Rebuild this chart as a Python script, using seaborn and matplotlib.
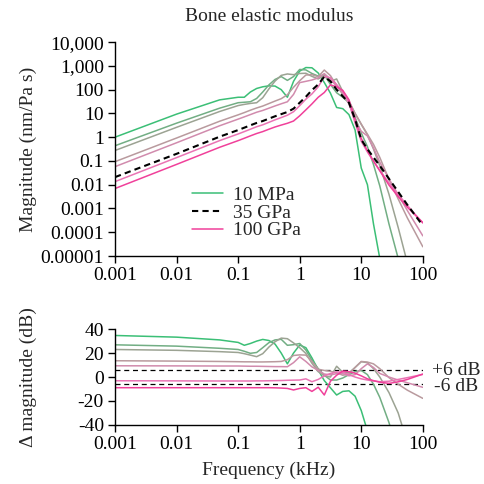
import numpy as np
import matplotlib
matplotlib.use("Agg")
import matplotlib.pyplot as plt
import matplotlib.transforms as mtransforms
from matplotlib.lines import Line2D
import seaborn as sns

# shared frequency grid (kHz)
FREQ_KHZ = [0.001, 0.01, 0.05, 0.1, 0.126, 0.158, 0.2, 0.251, 0.316, 0.398,
            0.501, 0.631, 0.794, 1.0, 1.26, 1.58, 2.0, 2.51, 3.16, 3.98,
            5.01, 6.31, 7.94, 10.0, 12.6, 15.8, 20.0, 28.2, 39.8, 56.2, 100.0]

# log10 of magnitude (nm/Pa s)
LOGMAG_10MPA = [0.00, 0.97, 1.57, 1.68, 1.68, 1.90, 2.05, 2.12, 2.16, 2.15,
                2.00, 1.68, 2.35, 2.78, 2.93, 2.92, 2.70, 2.30, 1.85, 1.25,
                1.20, 0.95, 0.30, -1.30, -2.00, -3.65, -5.10, -7.0, -9.0, -11.0, -14.0]
LOGMAG_B = [-0.36, 0.59, 1.22, 1.45, 1.47, 1.49, 1.63, 1.90, 2.20, 2.43,
            2.55, 2.39, 2.55, 2.85, 2.83, 2.68, 2.57, 2.62, 2.22, 1.87,
            1.68, 1.45, 0.83, 0.18, -0.40, -1.15, -2.05, -3.65, -5.10, -6.50, -9.0]
LOGMAG_C = [-0.56, 0.415, 1.08, 1.33, 1.38, 1.42, 1.45, 1.66, 2.03, 2.36,
            2.60, 2.66, 2.63, 2.68, 2.69, 2.56, 2.45, 2.60, 2.35, 2.45,
            1.92, 1.53, 1.00, 0.54, 0.10, -0.50, -1.20, -2.40, -3.80, -5.30, -8.5]
LOGMAG_D = [-1.03, -0.035, 0.67, 0.94, 1.035, 1.135, 1.23, 1.31, 1.415, 1.52,
            1.62, 1.785, 2.10, 2.375, 2.615, 2.63, 2.545, 2.825, 2.59, 2.175,
            1.795, 1.475, 1.00, 0.55, 0.125, -0.30, -0.85, -1.775, -2.60, -3.40, -4.61]
LOGMAG_E = [-1.24, -0.235, 0.48, 0.76, 0.855, 0.95, 1.05, 1.125, 1.22, 1.315,
            1.405, 1.49, 1.80, 2.295, 2.35, 2.405, 2.495, 2.675, 2.44, 2.14,
            1.86, 1.40, 0.70, 0.25, 0.05, -0.45, -1.05, -1.75, -2.425, -3.09, -4.15]
LOGMAG_35GPA = [-1.68, -0.70, 0.02, 0.30, 0.40, 0.50, 0.60, 0.68, 0.78, 0.88,
                0.97, 1.06, 1.20, 1.45, 1.70, 1.98, 2.22, 2.55, 2.35, 2.00,
                1.72, 1.45, 0.75, -0.10, -0.50, -0.85, -1.20, -1.75, -2.30, -2.85, -3.72]
LOGMAG_F = [-1.87, -0.86, -0.145, 0.135, 0.235, 0.335, 0.44, 0.52, 0.625, 0.73,
            0.825, 0.925, 1.07, 1.325, 1.60, 1.82, 2.12, 2.55, 2.50, 2.215,
            1.92, 1.45, 0.60, -0.175, -0.625, -1.015, -1.395, -1.925, -2.40, -2.875, -3.61]
LOGMAG_100GPA = [-2.16, -1.145, -0.425, -0.145, -0.045, 0.055, 0.155, 0.235, 0.335, 0.43,
                 0.51, 0.585, 0.68, 0.90, 1.15, 1.40, 1.68, 1.88, 2.20, 2.12,
                 1.97, 1.575, 0.76, -0.05, -0.575, -1.00, -1.415, -2.015, -2.50, -2.95, -3.595]

# change in magnitude relative to 35 GPa (dB), bottom panel
DB_10MPA = [34.7, 33.3, 31.0, 28.9, 26.5, 28.0, 30.0, 31.4, 30.5, 27.5,
            20.0, 11.0, 20.0, 26.7, 24.5, 16.0, 6.0, -3.0, -9.0, -15.0,
            -12.0, -11.5, -16.0, -28.0, -45.0, -70.0, -95.0, -120.0, -140.0, -160.0, -200.0]
DB_B = [26.9, 25.8, 24.0, 23.0, 21.5, 19.8, 20.5, 24.5, 28.7, 31.0,
        31.5, 26.5, 27.0, 28.0, 22.5, 14.0, 7.0, 1.5, -2.5, -2.5,
        -0.8, 2.0, 4.5, 5.5, 2.0, -6.0, -17.0, -38.0, -65.0, -90.0, -130.0]
DB_C = [23.0, 22.3, 21.2, 20.5, 19.5, 18.3, 17.0, 19.5, 25.0, 29.5,
        32.5, 32.0, 28.5, 24.5, 19.7, 11.5, 4.5, 1.0, 0.0, 9.0,
        4.0, 3.5, 8.0, 12.8, 12.0, 7.0, 0.0, -13.0, -30.0, -55.0, -95.0]
DB_D = [13.6, 13.3, 13.0, 12.8, 12.7, 12.7, 12.6, 12.6, 12.7, 12.8,
        13.0, 14.5, 18.0, 18.5, 18.3, 13.0, 6.5, 5.5, 4.8, 3.5,
        1.5, 2.5, 8.0, 13.0, 12.5, 11.0, 7.0, -0.5, -6.0, -11.0, -17.8]
DB_E = [9.4, 9.3, 9.2, 9.2, 9.1, 9.0, 9.0, 8.9, 8.8, 8.7,
        8.7, 8.6, 12.0, 16.9, 13.0, 8.5, 5.5, 2.5, 1.8, 2.8,
        2.8, 1.0, 2.0, 7.0, 11.0, 8.0, 3.0, 0.0, -2.5, -4.8, -8.6]
DB_F = [-3.1, -3.2, -3.3, -3.3, -3.3, -3.3, -3.2, -3.2, -3.1, -3.0,
        -2.9, -2.7, -2.6, -2.5, -1.5, -3.9, -2.0, 1.0, 3.0, 4.3,
        4.0, 2.0, 0.0, -1.5, -2.5, -3.3, -3.9, -3.5, -2.0, -0.5, 2.2]
DB_100GPA = [-8.9, -8.9, -8.9, -8.9, -8.9, -8.9, -8.9, -8.9, -8.9, -9.0,
             -9.2, -9.5, -10.8, -9.5, -8.9, -12.0, -8.5, -15.0, -3.5, 1.5,
             5.0, 4.5, 3.2, 1.0, -1.5, -3.0, -4.3, -5.3, -4.0, -2.0, 2.5]

X_TICKS = [0.001, 0.01, 0.1, 1, 10, 100]
X_TICK_LABELS = ["0.001", "0.01", "0.1", "1", "10", "100"]
Y_TICKS = [1e4, 1e3, 1e2, 1e1, 1, 0.1, 0.01, 0.001, 0.0001, 0.00001]
Y_TICK_LABELS = ["10,000", "1,000", "100", "10", "1", "0.1", "0.01",
                 "0.001", "0.0001", "0.00001"]
DB_TICKS = [40, 20, 0, -20, -40]
DB_TICK_LABELS = ["40", "20", "0", "-20", "-40"]

sns.set_theme(style="ticks")
plt.rcParams["font.family"] = ["Liberation Serif", "DejaVu Serif"]
plt.rcParams["axes.unicode_minus"] = False
FS = 14

colors = ["#3BBF76", "#72AE84", "#9CA393", "#B99A9E", "#D18BAD", "#EA74B4", "#F0409A"]
top_series = [LOGMAG_10MPA, LOGMAG_B, LOGMAG_C, LOGMAG_D, LOGMAG_E, LOGMAG_F, LOGMAG_100GPA]
db_series = [DB_10MPA, DB_B, DB_C, DB_D, DB_E, DB_F, DB_100GPA]

fig = plt.figure(figsize=(4.84, 4.84), dpi=100)
ax_top = fig.add_axes([0.2376, 0.471, 0.636, 0.442])
ax_bot = fig.add_axes([0.2376, 0.122, 0.636, 0.198])

for ax in (ax_top, ax_bot):
    ax.set_xscale("log")
ax_top.set_yscale("log")

freq = np.array(FREQ_KHZ)
for c, lm in zip(colors, top_series):
    sns.lineplot(x=freq, y=np.power(10.0, lm), ax=ax_top, color=c, lw=1.1,
                 estimator=None, sort=False)
sns.lineplot(x=freq, y=np.power(10.0, LOGMAG_35GPA), ax=ax_top, color="black",
             lw=1.5, linestyle=(0, (3, 2)), estimator=None, sort=False)

for c, db in zip(colors, db_series):
    sns.lineplot(x=freq, y=db, ax=ax_bot, color=c, lw=1.1,
                 estimator=None, sort=False)
for lvl in (6, -6):
    ax_bot.axhline(lvl, color="black", lw=0.9, linestyle=(0, (4, 3)), zorder=1)

trans = mtransforms.blended_transform_factory(ax_bot.transAxes, ax_bot.transData)
ax_bot.text(1.03, 5.5, "+6 dB", transform=trans, ha="left", va="center", fontsize=FS)
ax_bot.text(1.035, -7.5, "-6 dB", transform=trans, ha="left", va="center", fontsize=FS)

ax_top.set_xlim(0.001, 100)
ax_top.set_ylim(1e-5, 1e4)
ax_bot.set_xlim(0.001, 100)
ax_bot.set_ylim(-40, 40)

for ax in (ax_top, ax_bot):
    ax.set_xticks(X_TICKS)
    ax.set_xticklabels(X_TICK_LABELS, fontsize=FS)
    ax.minorticks_off()
    ax.tick_params(direction="out", length=5, width=1, colors="black", pad=3)
    for s in ("left", "bottom"):
        ax.spines[s].set_color("black")
        ax.spines[s].set_linewidth(1)
ax_top.set_yticks(Y_TICKS)
ax_top.set_yticklabels(Y_TICK_LABELS, fontsize=FS)
ax_top.minorticks_off()
ax_bot.set_yticks(DB_TICKS)
ax_bot.set_yticklabels(DB_TICK_LABELS, fontsize=FS)
sns.despine(fig=fig)

ax_top.set_ylabel("Magnitude (nm/Pa s)", fontsize=FS)
ax_top.yaxis.set_label_coords(-0.255, 0.5)
ax_bot.set_ylabel("\u0394 magnitude (dB)", fontsize=FS)
ax_bot.yaxis.set_label_coords(-0.255, 0.5)
ax_bot.set_xlabel("Frequency (kHz)", fontsize=FS, labelpad=6)

handles = [Line2D([], [], color=colors[0], lw=1.1),
           Line2D([], [], color="black", lw=1.5, linestyle=(0, (3, 2))),
           Line2D([], [], color=colors[-1], lw=1.1)]
ax_top.legend(handles, ["10 MPa", "35 GPa", "100 GPa"], loc="upper left",
              bbox_to_anchor=(0.25, 0.325), frameon=False, fontsize=FS,
              handlelength=1.6, handletextpad=0.5, labelspacing=0.0,
              borderpad=0, borderaxespad=0)

fig.text(0.556, 0.966, "Bone elastic modulus", ha="center", va="center", fontsize=FS)

fig.savefig("out.png", dpi=100)
